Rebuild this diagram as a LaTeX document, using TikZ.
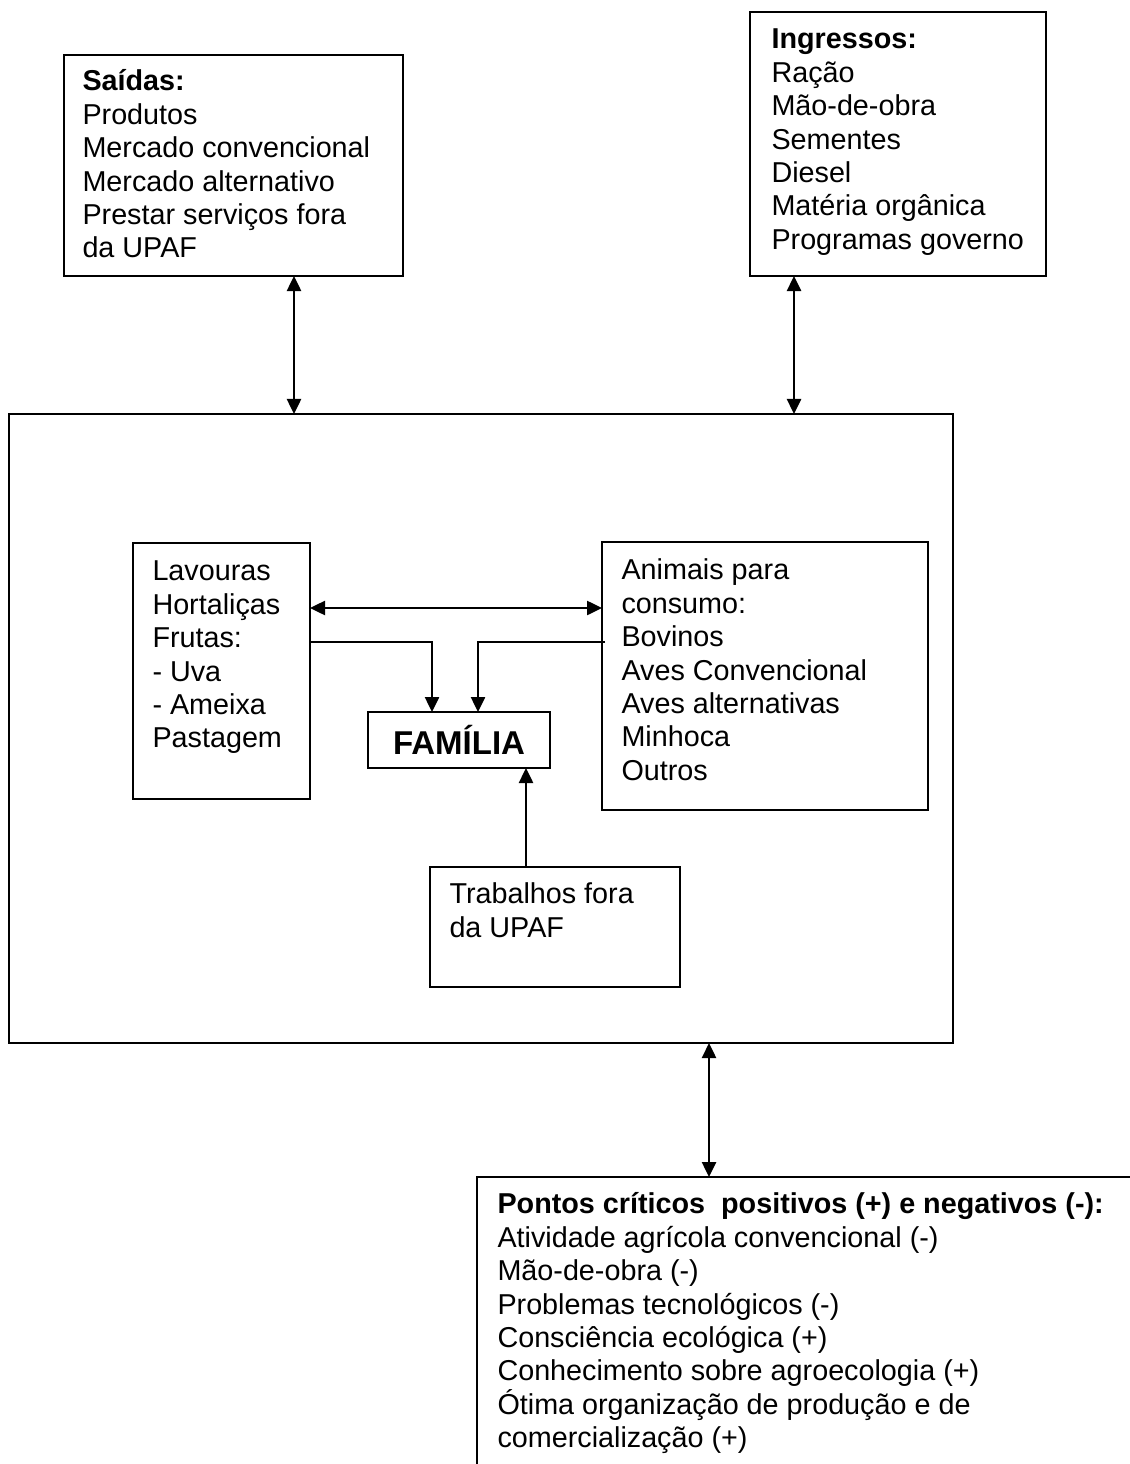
\documentclass[tikz,border=0pt]{standalone}
\usepackage{fontspec}
\setmainfont{Liberation Sans}
\usetikzlibrary{arrows.meta}

\newcommand{\bodyfont}{\fontsize{11.5pt}{13.36pt}\selectfont}
\newcommand{\famfont}{\fontsize{13.2pt}{15pt}\selectfont\bfseries}

\begin{document}
\begin{tikzpicture}[x=0.4pt, y=-0.4pt,
  box/.style={draw, line width=1pt, inner sep=0pt, outer sep=0pt, anchor=north west},
  boxtext/.style={anchor=north west, inner sep=0pt, align=left, font=\bodyfont},
  link/.style={line width=1pt, -{Triangle[length=6pt, width=5.6pt]}},
  dlink/.style={line width=1pt, {Triangle[length=6pt, width=5.6pt]}-{Triangle[length=6pt, width=5.6pt]}}
]
\useasboundingbox (0,0) rectangle (1130,1464);
\clip (0,0) rectangle (1130,1464);

% outer boxes
\node[box, minimum width=135.6pt, minimum height=88.4pt] (saidas) at (64,55) {};
\node[boxtext] (saidasT) at (82,67)
  {\strut\textbf{Saídas:}\\Produtos\\Mercado convencional\\Mercado alternativo\\Prestar serviços fora\\da UPAF};

\node[box, minimum width=118.4pt, minimum height=105.6pt] (ingressos) at (750,12) {};
\node[boxtext] (ingressosT) at (771,25)
  {\strut\textbf{Ingressos:}\\Ração\\Mão-de-obra\\Sementes\\Diesel\\Matéria orgânica\\Programas governo};

\node[box, minimum width=377.6pt, minimum height=251.6pt] (sistema) at (9,414) {};

\node[box, minimum width=280pt, minimum height=128pt] (pontos) at (477,1177) {};
\node[boxtext] (pontosT) at (497,1190)
  {\strut\textbf{Pontos críticos\ \ positivos (+) e negativos (-):}\\Atividade agrícola convencional (-)\\Mão-de-obra (-)\\Problemas tecnológicos (-)\\Consciência ecológica (+)\\Conhecimento sobre agroecologia (+)\\Ótima organização de produção e de\\comercialização (+)};

% inner boxes
\node[box, minimum width=70.8pt, minimum height=102.4pt] (lavouras) at (133,543) {};
\node[boxtext] (lavourasT) at (152,557)
  {\strut Lavouras\\Hortaliças\\Frutas:\\- Uva\\- Ameixa\\Pastagem};

\node[box, minimum width=130.4pt, minimum height=107.2pt] (animais) at (602,542) {};
\node[boxtext] (animaisT) at (621,556)
  {\strut Animais para\\consumo:\\Bovinos\\Aves Convencional\\Aves alternativas\\Minhoca\\Outros};

\node[box, minimum width=72.8pt, minimum height=22.4pt, font=\famfont] (familia) at (368,712) {FAMÍLIA};

\node[box, minimum width=100pt, minimum height=48pt] (trabalhos) at (430,867) {};
\node[boxtext] (trabalhosT) at (449,880)
  {\strut Trabalhos fora\\da UPAF};

% connectors
\draw[dlink] (294,0 |- saidas.south) -- (294,0 |- sistema.north);
\draw[dlink] (794,0 |- ingressos.south) -- (794,0 |- sistema.north);
\draw[dlink] (709,0 |- sistema.south) -- (709,0 |- pontos.north);
\draw[dlink] (lavouras.east |- 0,608) -- (animais.west |- 0,608);
\draw[link] (lavouras.east |- 0,642) -| (432,0 |- familia.north);
\draw[link] ([xshift=1.2pt]animais.west |- 0,642) -| (478,0 |- familia.north);
\draw[link] (526,0 |- trabalhos.north) -- (526,0 |- familia.south);
\end{tikzpicture}
\end{document}
